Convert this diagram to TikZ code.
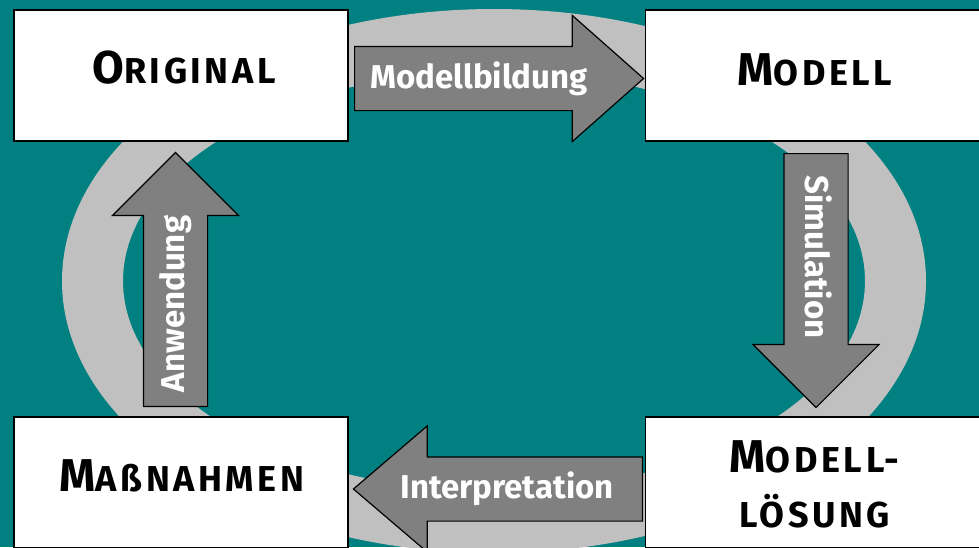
\documentclass[tikz,border=0pt]{standalone}
\usepackage{fontspec}
\setmainfont{Fira Sans}
\usetikzlibrary{shapes.arrows}
\definecolor{bgteal}{RGB}{0,128,128}
\definecolor{ringgray}{RGB}{192,192,192}
\definecolor{arrowgray}{RGB}{128,128,128}
\newcommand\bigsc[2]{{\fontsize{46}{55}\selectfont\addfontfeatures{LetterSpace=10}#1}{\fontsize{36}{55}\selectfont\addfontfeatures{LetterSpace=10}#2}}

\begin{document}
\begin{tikzpicture}[x=1pt,y=-1pt,
    box/.style={rectangle,draw,line width=1.5pt,fill=white,minimum width=334pt,minimum height=131pt,inner sep=0pt},
    ttl/.style={inner sep=0pt,align=center,font=\bfseries\fontsize{46}{55}\selectfont},
    blk/.style={single arrow,draw,line width=1.2pt,fill=arrowgray,inner xsep=0pt,inner ysep=31.5pt,minimum width=125pt,single arrow head extend=31pt,anchor=tail},
    hblk/.style={blk,minimum height=289pt,single arrow tip angle=83},
    vblk/.style={blk,minimum height=254pt,single arrow tip angle=90},
    lbl/.style={inner sep=0pt,anchor=base,text=white,font=\bfseries\fontsize{33}{40}\selectfont}]
  \useasboundingbox (0,0) rectangle (979,547);
  \clip (0,0) rectangle (979,547);
  \fill[bgteal] (0,0) rectangle (979,547);
  \fill[ringgray,even odd rule] (494,281) ellipse (432 and 272) (494,281) ellipse (371 and 210);
  \node[box] (orig) at (181,75.5) {};
  \node[box] (modell) at (812.5,75.5) {};
  \node[box] (mass) at (181,482.5) {};
  \node[box] (loesung) at (812.5,482.5) {};
  \node[ttl,anchor=base] (origtxt) at (184,83) {\bigsc{O}{RIGINAL}};
  \node[ttl,anchor=base] (modelltxt) at (815,85) {\bigsc{M}{ODELL}};
  \node[ttl,anchor=base] (masstxt) at (182,491) {\bigsc{M}{A\ss NAHMEN}};
  \node[ttl] (loesungtxt) at (814.5,484) {\bigsc{M}{ODELL-}\\\bigsc{}{LÖSUNG}};
  \node[hblk] (bildung) at (354,78.5) {};
  \node[vblk,rotate=-90] (simul) at (816,153) {};
  \node[hblk,shape border rotate=180,single arrow tip angle=81] (interp) at (643,489) {};
  \node[vblk,rotate=90] (anw) at (175.5,407) {};
  \node[lbl] (bildungtxt) at (479,88) {Modellbildung};
  \node[lbl,rotate=-90] (simultxt) at (805.5,257) {Simulation};
  \node[lbl] (interptxt) at (507,498) {Interpretation};
  \node[lbl,rotate=90] (anwtxt) at (184.5,304) {Anwendung};
\end{tikzpicture}
\end{document}
